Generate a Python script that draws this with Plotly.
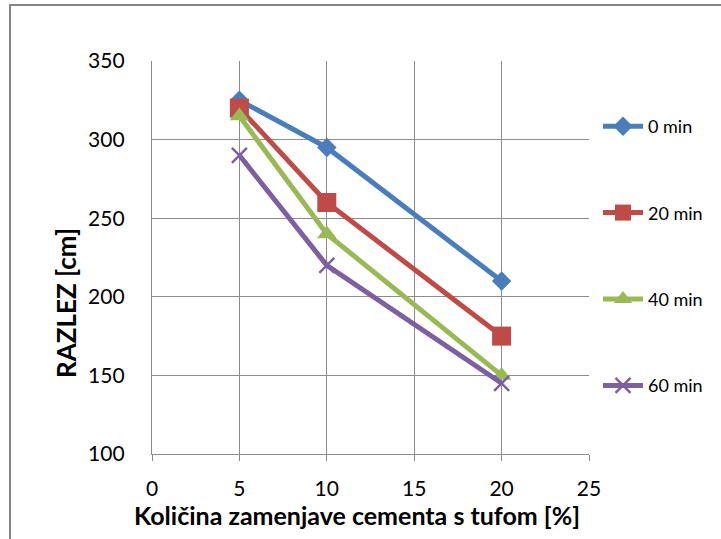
import plotly.graph_objects as go

# Replacement share of cement with tuff [%]
zamenjava = [5, 10, 20]

# Flow (razlez) in cm after the given elapsed times
serije = ["0 min", "20 min", "40 min", "60 min"]
razlez_0 = [325, 295, 210]
razlez_20 = [320, 260, 175]
razlez_40 = [315, 240, 150]
razlez_60 = [290, 220, 145]

x_ticks = [0, 5, 10, 15, 20, 25]
y_ticks = [100, 150, 200, 250, 300, 350]

barve = ["#4A7EBB", "#BE4B48", "#98B954", "#7D60A0"]
simboli = ["diamond", "square", "triangle-up", "x-thin-open"]
velikosti = [15, 19, 17, 15]
vrednosti = [razlez_0, razlez_20, razlez_40, razlez_60]

W, H = 721, 539
L, R, T, B = 152, 132, 61, 85
FONT = "Lato"

fig = go.Figure()
for ime, y, c, s, v in zip(serije, vrednosti, barve, simboli, velikosti):
    fig.add_trace(go.Scatter(
        x=zamenjava, y=y, name=ime, mode="lines+markers",
        legendgroup=ime,
        line=dict(color=c, width=5),
        marker=dict(symbol=s, size=v, color=c,
                    line=dict(color=c, width=2.5 if "x" in s else 0)),
    ))

axis_common = dict(
    showgrid=True, gridcolor="#8C8C8C", gridwidth=1.3,
    showline=True, linecolor="#8C8C8C", linewidth=1.3,
    zeroline=False, tickfont=dict(family=FONT, size=21, color="#000"),
)

fig.update_xaxes(range=[0, 25], tickvals=x_ticks, ticks="outside",
                 ticklen=6, tickwidth=1.3, tickcolor="#8C8C8C",
                 ticklabelstandoff=10, **axis_common)
# transparent ticks keep the labels clear of the value axis
fig.update_yaxes(range=[100, 350], tickvals=y_ticks, ticks="outside",
                 ticklen=22, tickcolor="rgba(0,0,0,0)", **axis_common)


def px_x(p):
    return (p - L) / (W - L - R)


def px_y(p):
    return (H - B - p) / (H - T - B)


fig.add_annotation(text="<b>Količina zamenjave cementa s tufom [%]</b>",
                   x=px_x(357), y=px_y(515), xref="paper", yref="paper",
                   xanchor="center", yanchor="middle",
                   showarrow=False, font=dict(family=FONT, size=25, color="#000"))
fig.add_annotation(text="<b>RAZLEZ [cm]</b>", textangle=-90,
                   x=px_x(66), y=px_y(303), xref="paper", yref="paper",
                   xanchor="center", yanchor="middle",
                   showarrow=False, font=dict(family=FONT, size=26, color="#000"))

# chart frame
fig.add_shape(type="rect", xref="paper", yref="paper",
              x0=px_x(10), x1=px_x(760), y0=px_y(580), y1=px_y(5),
              line=dict(color="#868686", width=2), layer="below")

fig.update_layout(
    width=W, height=H,
    margin=dict(l=L, r=R, t=T, b=B),
    paper_bgcolor="white", plot_bgcolor="white",
    showlegend=True,
    legend=dict(x=px_x(598), y=px_y(108), xanchor="left", yanchor="top",
                font=dict(family=FONT, size=18, color="#000"),
                tracegroupgap=60, bgcolor="rgba(0,0,0,0)",
                itemwidth=40),
)

fig.write_html("out.html")
